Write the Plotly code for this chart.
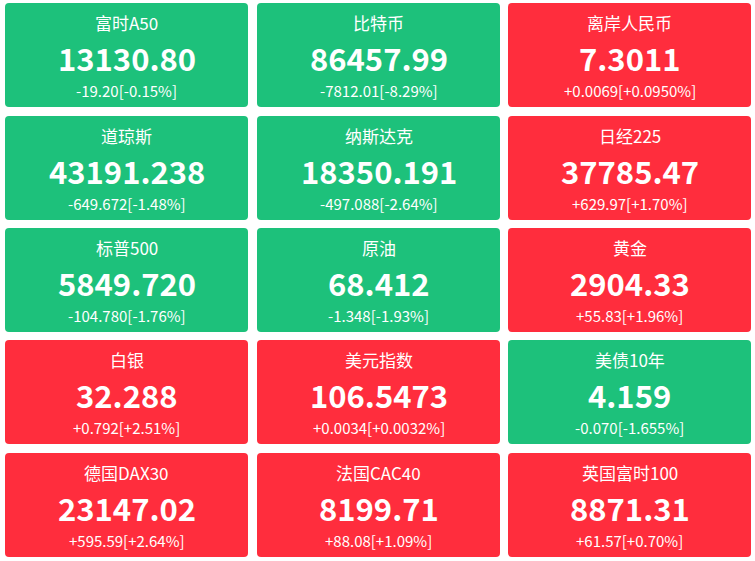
import plotly.graph_objects as go

names = ["富时A50","比特币","离岸人民币","道琼斯","纳斯达克","日经225","标普500","原油","黄金",
         "白银","美元指数","美债10年","德国DAX30","法国CAC40","英国富时100"]
values = ["13130.80","86457.99","7.3011","43191.238","18350.191","37785.47","5849.720","68.412","2904.33",
          "32.288","106.5473","4.159","23147.02","8199.71","8871.31"]
changes = ["-19.20","-7812.01","+0.0069","-649.672","-497.088","+629.97","-104.780","-1.348","+55.83",
           "+0.792","+0.0034","-0.070","+595.59","+88.08","+61.57"]
pcts = ["-0.15%","-8.29%","+0.0950%","-1.48%","-2.64%","+1.70%","-1.76%","-1.93%","+1.96%",
        "+2.51%","+0.0032%","-1.655%","+2.64%","+1.09%","+0.70%"]

GREEN = "#1dc17b"
RED = "#ff2d3d"
W, H = 755, 561
x0s = [5, 257, 508]; tw = 243
y0s = [3, 116, 228, 340, 453]; th = 104
r = 4

fig = go.Figure()
shapes = []; ann = []
font = "Noto Sans CJK SC, Microsoft YaHei, sans-serif"
for i, nm in enumerate(names):
    c, rw = i % 3, i // 3
    x0, y0 = x0s[c], y0s[rw]
    x1, y1 = x0 + tw, y0 + th
    col = RED if changes[i].startswith("+") else GREEN
    path = (f"M{x0+r},{y0} L{x1-r},{y0} Q{x1},{y0} {x1},{y0+r} L{x1},{y1-r} Q{x1},{y1} {x1-r},{y1} "
            f"L{x0+r},{y1} Q{x0},{y1} {x0},{y1-r} L{x0},{y0+r} Q{x0},{y0} {x0+r},{y0} Z")
    shapes.append(dict(type="path", path=path, fillcolor=col, line=dict(width=0), layer="below"))
    cx = (x0 + x1) / 2
    ann.append(dict(x=cx, y=y0+19, text=nm, showarrow=False, font=dict(size=17, color="white", family=font)))
    ann.append(dict(x=cx, y=y0+54, text=f"<b>{values[i]}</b>", showarrow=False, font=dict(size=31, color="white", family=font)))
    ann.append(dict(x=cx, y=y0+87, text=f"{changes[i]}[{pcts[i]}]", showarrow=False, font=dict(size=15, color="white", family=font)))

fig.update_layout(width=W, height=H, margin=dict(l=0, r=0, t=0, b=0),
                  paper_bgcolor="white", plot_bgcolor="white", shapes=shapes, annotations=ann,
                  xaxis=dict(range=[0, W], visible=False, fixedrange=True),
                  yaxis=dict(range=[H, 0], visible=False, fixedrange=True), showlegend=False)
fig.write_html("out.html", config=dict(displayModeBar=False),
               post_script="document.body.style.margin='0';document.body.style.overflow='hidden';")
